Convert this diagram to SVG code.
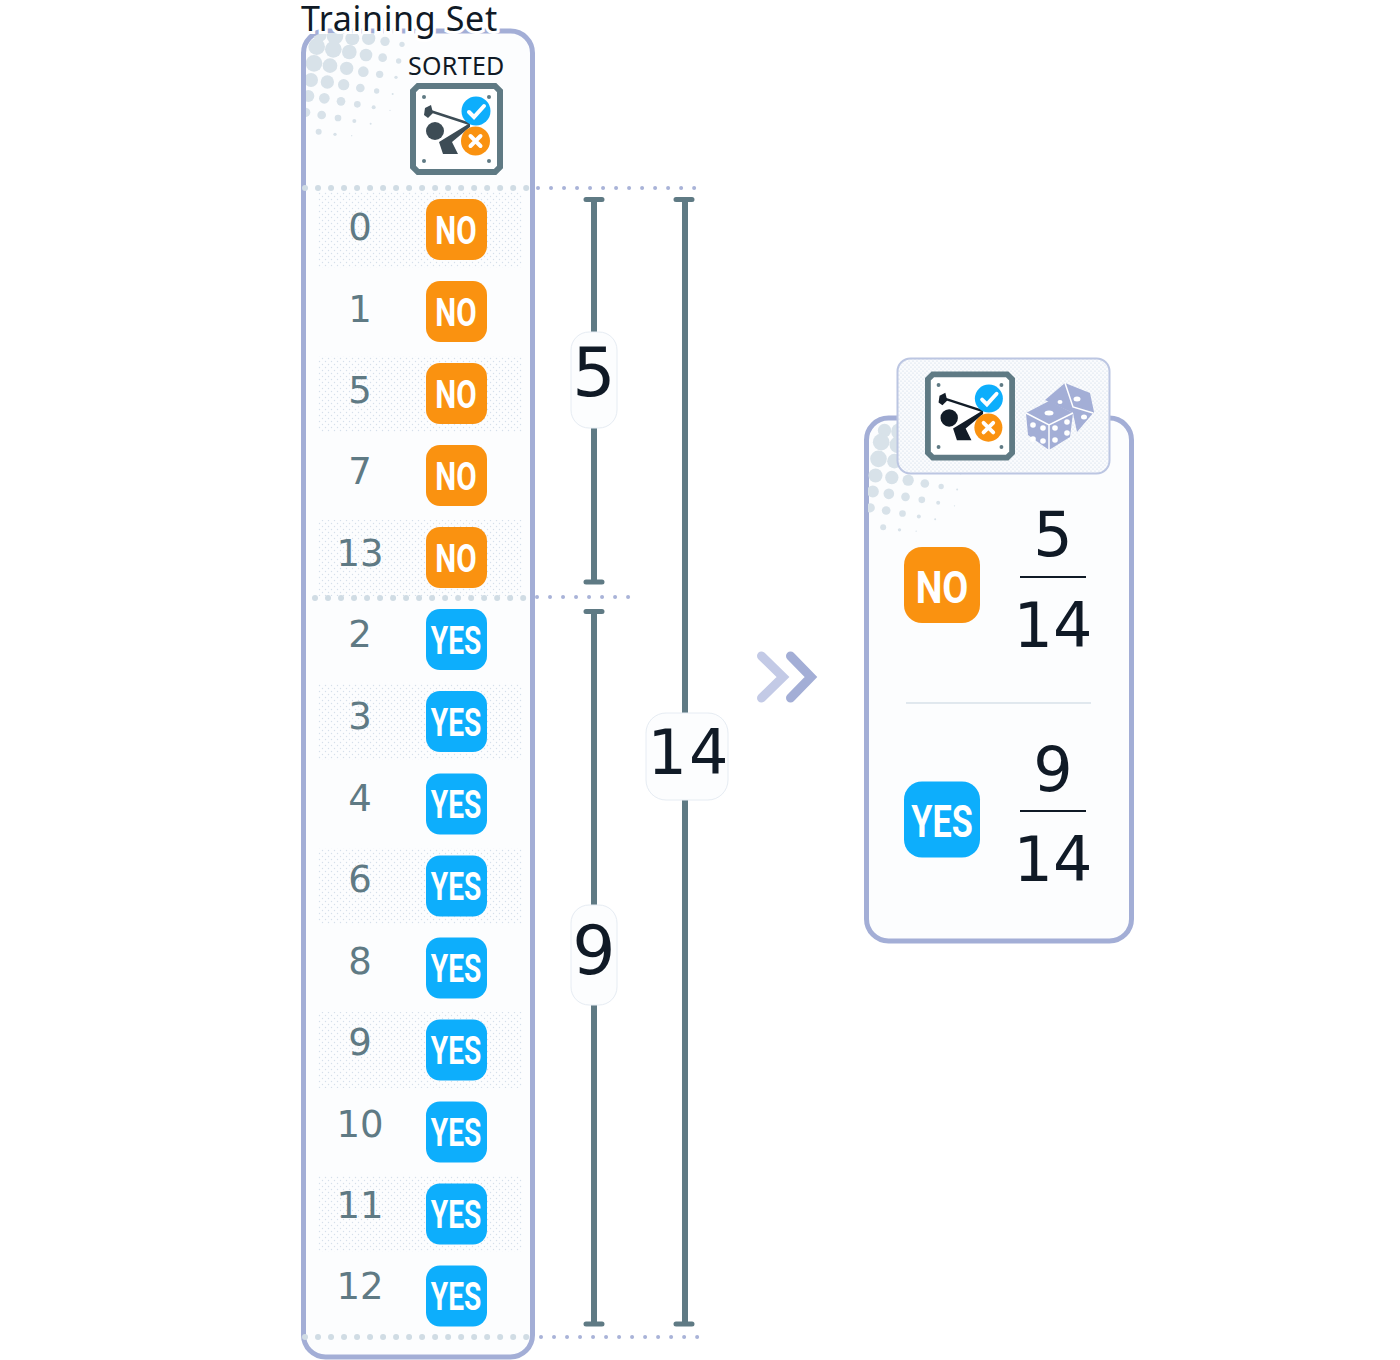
<svg xmlns="http://www.w3.org/2000/svg" width="1400" height="1360" viewBox="0 0 1400 1360">
<style>
text{font-family:"DejaVu Sans","Noto Sans",sans-serif}
.panel{fill:#fcfdfe;stroke:#a3aed6;stroke-width:5}
.num{font-size:37px;fill:#5f7a84;text-anchor:middle}
.bt{font-family:Roboto,"Noto Sans",sans-serif;font-weight:700;font-size:38px;fill:#fff;text-anchor:middle}
.bt2{font-family:Roboto,"Noto Sans",sans-serif;font-weight:700;font-size:45px;fill:#fff;text-anchor:middle}
.no{fill:#fa9210}
.yes{fill:#0daefc}
.big{fill:#101a26;text-anchor:middle}
.bar{stroke:#5f7a84;stroke-width:6;fill:none}
.cap{stroke:#5f7a84;stroke-width:5;stroke-linecap:round;fill:none}
.lab{fill:#fcfdfe;stroke:#e6ecf3;stroke-width:1}
.d1{stroke:#d0dce4;stroke-width:6;stroke-linecap:round;stroke-dasharray:.01 13;fill:none}
.d2{stroke:#a9b3d8;stroke-width:4;stroke-linecap:round;stroke-dasharray:.01 13;fill:none}
.fl{stroke:#101a26;stroke-width:2;fill:none}
.stripe{fill:url(#dots)}
</style>
<defs>
<pattern id="dots" width="6" height="6" patternUnits="userSpaceOnUse"><circle cx="1.500" cy="1.500" r=".7" fill="#d5dfea"/><circle cx="4.500" cy="4.500" r=".7" fill="#d5dfea"/></pattern>
<pattern id="dots2" width="4" height="4" patternUnits="userSpaceOnUse"><rect width="4" height="4" fill="#fafbfd"/><circle cx="1" cy="1" r=".6" fill="#c5d5e4"/><circle cx="3" cy="3" r=".6" fill="#c5d5e4"/></pattern>
<clipPath id="c1"><rect x="306" y="33" width="224" height="200" rx="19"/></clipPath>
<clipPath id="c2"><rect x="868" y="420" width="262" height="200" rx="19"/></clipPath>
<g id="half" fill="#d8e2e9" transform="translate(295 0) scale(.3333)">
<circle cx="75" cy="105" r="20"/><circle cx="120" cy="108" r="25"/><circle cx="172" cy="115" r="21"/><circle cx="221" cy="115" r="20"/><circle cx="270" cy="124" r="14"/><circle cx="321" cy="133" r="8"/>
<circle cx="65" cy="140" r="25"/><circle cx="115" cy="148" r="25"/><circle cx="163" cy="156" r="22"/><circle cx="213" cy="165" r="19"/><circle cx="263" cy="173" r="13"/><circle cx="311" cy="183" r="8"/>
<circle cx="57" cy="190" r="25"/><circle cx="105" cy="197" r="22"/><circle cx="155" cy="205" r="20"/><circle cx="205" cy="215" r="16"/><circle cx="254" cy="223" r="11"/><circle cx="303" cy="232" r="5"/>
<circle cx="48" cy="240" r="21"/><circle cx="97" cy="246" r="20"/><circle cx="146" cy="254" r="17"/><circle cx="196" cy="264" r="13"/><circle cx="245" cy="273" r="8"/><circle cx="293" cy="282" r="3"/>
<circle cx="40" cy="288" r="18"/><circle cx="88" cy="295" r="16"/><circle cx="138" cy="304" r="13"/><circle cx="187" cy="313" r="10"/><circle cx="236" cy="322" r="6"/><circle cx="285" cy="331" r="2"/>
<circle cx="32" cy="337" r="14"/><circle cx="80" cy="345" r="13"/><circle cx="129" cy="354" r="10"/><circle cx="178" cy="363" r="6"/><circle cx="227" cy="371" r="3"/>
<circle cx="71" cy="395" r="9"/><circle cx="120" cy="403" r="5"/><circle cx="170" cy="407" r="2"/>
</g>
<symbol id="icon" viewBox="0 0 93 92" overflow="visible">
<path d="M8 3H85L90 8V84L85 89H8L3 84V8Z" fill="#fff" stroke="#5f7a84" stroke-width="6"/>
<g fill="#5f7a84"><circle cx="14" cy="14" r="2"/><circle cx="79" cy="14" r="2"/><circle cx="14" cy="78" r="2"/><circle cx="79" cy="78" r="2"/></g>
<path d="M17 27L60 41" stroke="currentColor" stroke-width="2.500" fill="none"/>
<path d="M15 25L21 22L23 30L18 35L14 32Z" fill="currentColor"/>
<circle cx="25" cy="48" r="9" fill="currentColor"/>
<path d="M60 40L29 59L33 71H48L42 59L60 44Z" fill="currentColor"/>
<circle cx="66" cy="28" r="14.500" fill="#0daefc"/>
<path d="M59 29L64 34L74 23" stroke="#fff" stroke-width="4" fill="none" stroke-linecap="round"/>
<circle cx="65.500" cy="58" r="14.500" fill="#fa9210"/>
<path d="M60.500 53L70.500 63M70.500 53L60.500 63" stroke="#fff" stroke-width="4" fill="none" stroke-linecap="round"/>
</symbol>
</defs>

<g id="panel-left">
<rect class="panel" x="303.500" y="31" width="229" height="1326" rx="22"/>
<use href="#half" clip-path="url(#c1)"/>
<rect class="stripe" x="318" y="192" width="204" height="76"/>
<rect class="stripe" x="318" y="356" width="204" height="76"/>
<rect class="stripe" x="318" y="520" width="204" height="76"/>
<rect class="stripe" x="318" y="684" width="204" height="76"/>
<rect class="stripe" x="318" y="848" width="204" height="76"/>
<rect class="stripe" x="318" y="1012" width="204" height="76"/>
<rect class="stripe" x="318" y="1176" width="204" height="76"/>
<text x="301" y="31" font-size="34" letter-spacing=".65" fill="#101a26" stroke="#fff" stroke-width="6" paint-order="stroke" style="font-family:'Noto Sans',sans-serif">Training Set</text>
<text x="408" y="75" font-size="25" letter-spacing=".3" fill="#101a26" style="font-family:'Noto Sans',sans-serif">SORTED</text>
<use href="#icon" x="410" y="83" width="93" height="92" color="#3d4c55"/>
</g>

<g id="connectors">
<path class="d1" d="M305 188H527"/><path class="d2" d="M538 188H698"/>
<path class="d1" d="M315 598H527"/><path class="d2" d="M537 597H630"/>
<path class="d1" d="M305 1337H527"/><path class="d2" d="M541 1337H698"/>
<path class="bar" d="M594 198V584M594 611V1325M685 198V1325"/>
<path class="cap" d="M586 199.500H602M586 582H602M586 611.500H602M586 1324H602M676 199.500H692M676 1324H692"/>
<path d="M761.500 656L783 677L761.500 698" stroke="#c3cae6" stroke-width="9" fill="none" stroke-linecap="round"/>
<path d="M790.500 656L811 677L790.500 698" stroke="#a3aed6" stroke-width="9" fill="none" stroke-linecap="round"/>
</g>

<g id="count-5"><rect class="lab" x="571" y="332" width="46" height="96" rx="18"/><text class="big" x="594" y="396" font-size="68">5</text></g>
<g id="count-9"><rect class="lab" x="571" y="905" width="46" height="100" rx="18"/><text class="big" x="594" y="974" font-size="68">9</text></g>
<g id="count-14"><rect class="lab" x="646" y="713" width="82" height="87" rx="20"/><text class="big" x="689" y="773.500" font-size="62" letter-spacing="2">14</text></g>

<g id="row-0"><text class="num" x="360" y="240">0</text><rect class="no" x="426" y="199" width="61" height="61" rx="14"/><text class="bt" transform="translate(456 244) scale(.78 1)">NO</text></g>
<g id="row-1"><text class="num" x="360" y="322">1</text><rect class="no" x="426" y="281" width="61" height="61" rx="14"/><text class="bt" transform="translate(456 326) scale(.78 1)">NO</text></g>
<g id="row-5"><text class="num" x="360" y="403">5</text><rect class="no" x="426" y="363" width="61" height="61" rx="14"/><text class="bt" transform="translate(456 408) scale(.78 1)">NO</text></g>
<g id="row-7"><text class="num" x="360" y="484">7</text><rect class="no" x="426" y="445" width="61" height="61" rx="14"/><text class="bt" transform="translate(456 490) scale(.78 1)">NO</text></g>
<g id="row-13"><text class="num" x="360" y="566">13</text><rect class="no" x="426" y="527" width="61" height="61" rx="14"/><text class="bt" transform="translate(456 572) scale(.78 1)">NO</text></g>
<g id="row-2"><text class="num" x="360" y="647">2</text><rect class="yes" x="426" y="609" width="61" height="61" rx="14"/><text class="bt" transform="translate(456 654) scale(.74 1)">YES</text></g>
<g id="row-3"><text class="num" x="360" y="729">3</text><rect class="yes" x="426" y="691" width="61" height="61" rx="14"/><text class="bt" transform="translate(456 736) scale(.74 1)">YES</text></g>
<g id="row-4"><text class="num" x="360" y="811">4</text><rect class="yes" x="426" y="773.500" width="61" height="61" rx="14"/><text class="bt" transform="translate(456 818) scale(.74 1)">YES</text></g>
<g id="row-6"><text class="num" x="360" y="892">6</text><rect class="yes" x="426" y="855.500" width="61" height="61" rx="14"/><text class="bt" transform="translate(456 900) scale(.74 1)">YES</text></g>
<g id="row-8"><text class="num" x="360" y="974">8</text><rect class="yes" x="426" y="937.500" width="61" height="61" rx="14"/><text class="bt" transform="translate(456 982) scale(.74 1)">YES</text></g>
<g id="row-9"><text class="num" x="360" y="1055">9</text><rect class="yes" x="426" y="1019.500" width="61" height="61" rx="14"/><text class="bt" transform="translate(456 1064) scale(.74 1)">YES</text></g>
<g id="row-10"><text class="num" x="360" y="1137">10</text><rect class="yes" x="426" y="1101.500" width="61" height="61" rx="14"/><text class="bt" transform="translate(456 1146) scale(.74 1)">YES</text></g>
<g id="row-11"><text class="num" x="360" y="1218">11</text><rect class="yes" x="426" y="1183.500" width="61" height="61" rx="14"/><text class="bt" transform="translate(456 1228) scale(.74 1)">YES</text></g>
<g id="row-12"><text class="num" x="360" y="1299">12</text><rect class="yes" x="426" y="1265.500" width="61" height="61" rx="14"/><text class="bt" transform="translate(456 1310) scale(.74 1)">YES</text></g>

<g id="panel-right">
<rect class="panel" x="866.500" y="418" width="265" height="523" rx="22"/>
<g clip-path="url(#c2)"><use href="#half" transform="translate(564.500 395.500)"/></g>
<rect x="897.500" y="358.500" width="212" height="115" rx="13" fill="url(#dots2)" stroke="#bcc6e2" stroke-width="2"/>
<use href="#icon" x="925" y="371.500" width="90" height="89" color="#121c27"/>
<g id="dice">
<path d="M1065 383L1090 393L1094 412L1077 432L1073 413L1045 400Z" fill="#a3aed6"/>
<path d="M1049 401L1073 413L1070 437L1049 450L1028 435L1026 413Z" fill="#a3aed6"/>
<path d="M1065 383L1073 407L1093 413M1026 413L1049 425L1073 413M1049 425V450" stroke="#fff" stroke-width="1.500" fill="none"/>
<g fill="#fff"><ellipse cx="1049" cy="413" rx="4.500" ry="2.500"/><ellipse cx="1077" cy="399" rx="3.500" ry="2.500"/><ellipse cx="1084" cy="417" rx="3" ry="2.500"/><ellipse cx="1060" cy="402" rx="2.500" ry="2"/>
<circle cx="1033" cy="425" r="2.800"/><circle cx="1043" cy="428" r="2.800"/><circle cx="1033" cy="439" r="2.800"/><circle cx="1043" cy="441" r="2.800"/>
<circle cx="1067" cy="422" r="2.800"/><circle cx="1055" cy="428" r="2.800"/><circle cx="1067" cy="433" r="2.800"/><circle cx="1055" cy="440" r="2.800"/></g>
</g>
<g id="frac-no"><rect class="no" x="904" y="547" width="76" height="76" rx="18"/><text class="bt2" transform="translate(942 603) scale(.84 1)">NO</text>
<text class="big" x="1053" y="556" font-size="62">5</text><path class="fl" d="M1020 577H1086"/><text class="big" x="1053" y="646.500" font-size="62">14</text></g>
<path d="M906 703H1091" stroke="#c5d3de" stroke-width="1"/>
<g id="frac-yes"><rect class="yes" x="904" y="781.500" width="76" height="76" rx="18"/><text class="bt2" transform="translate(942 837) scale(.76 1)">YES</text>
<text class="big" x="1053" y="790.500" font-size="62">9</text><path class="fl" d="M1020 811H1086"/><text class="big" x="1053" y="880.500" font-size="62">14</text></g>
</g>
</svg>
